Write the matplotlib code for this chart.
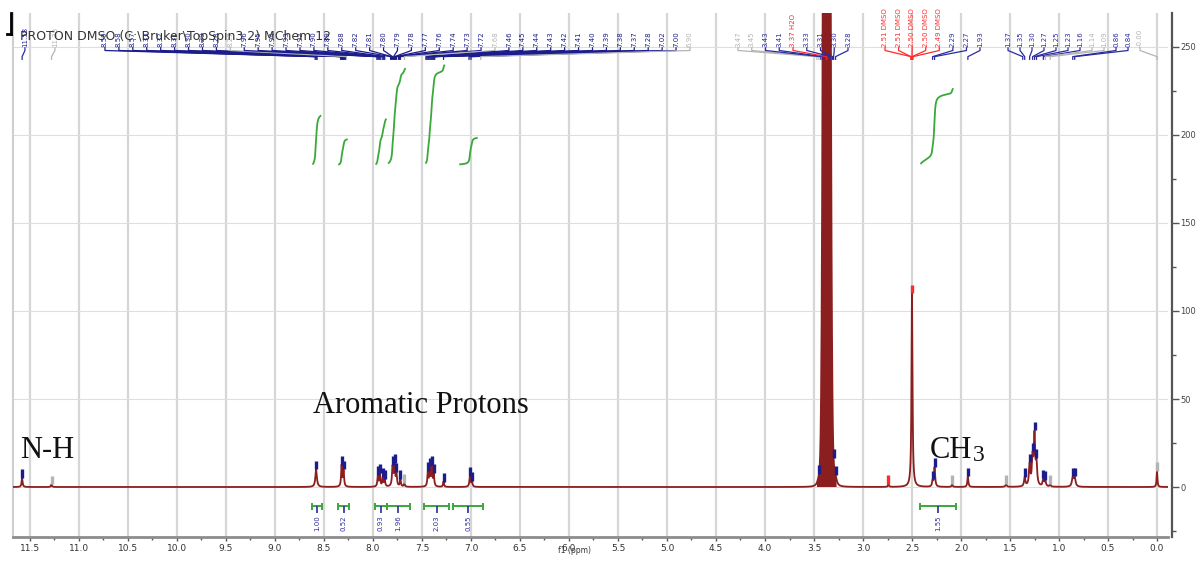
import numpy as np
import matplotlib.pyplot as plt
from matplotlib.ticker import MultipleLocator, FormatStrFormatter
from matplotlib.lines import Line2D

# picked peaks: position (ppm), height, half width, marker colour
peak_ppm = [11.58, 11.28, 8.58, 8.32, 8.30, 7.95, 7.93, 7.90, 7.88, 7.80, 7.78, 7.76, 7.72, 7.68,
            7.44, 7.42, 7.40, 7.38, 7.28, 7.01, 6.99,
            3.45, 3.30, 3.28, 2.74, 2.50, 2.29, 2.27, 2.09, 1.93, 1.54,
            1.35, 1.30, 1.27, 1.25, 1.23, 1.16, 1.14, 1.09, 0.86, 0.84, 0.00]
peak_height = [5, 1.5, 10, 12, 9, 6, 7, 5, 4, 11, 12, 7, 4, 2,
               8, 10, 11, 7, 3, 6, 3,
               5, 5, 4, 1.5, 110, 3, 11, 1.5, 6, 1.5,
               5, 12, 15, 28, 12, 4, 3, 1.5, 5, 5, 9]
peak_width = [0.006, 0.006, 0.009, 0.006, 0.006, 0.006, 0.006, 0.006, 0.006, 0.007, 0.007, 0.006, 0.006, 0.006,
              0.006, 0.006, 0.006, 0.006, 0.006, 0.007, 0.006,
              0.02, 0.02, 0.015, 0.006, 0.006, 0.006, 0.007, 0.006, 0.006, 0.008,
              0.008, 0.008, 0.008, 0.008, 0.008, 0.008, 0.008, 0.006, 0.01, 0.01, 0.005]
peak_mark = ['b', 'g', 'b', 'b', 'b', 'b', 'b', 'b', 'b', 'b', 'b', 'b', 'b', 'g',
             'b', 'b', 'b', 'b', 'b', 'b', 'b',
             'b', 'b', 'b', 'r', 'r', 'b', 'b', 'g', 'b', 'g',
             'b', 'b', 'b', 'b', 'b', 'b', 'b', 'g', 'b', 'b', 'g']

# residual water (off scale)
water_ppm = 3.37
water_height = 1600
water_sigma = 0.022

# peak labels along the top, in groups
arom_labels = ['8.59', '8.58', '8.57', '8.33', '8.32', '8.31', '8.30', '8.29', '8.28', '8.27',
               '7.96', '7.95', '7.94', '7.93', '7.92', '7.90', '7.89', '7.88',
               '7.82', '7.81', '7.80', '7.79', '7.78', '7.77', '7.76', '7.74', '7.73', '7.72', '7.68',
               '7.46', '7.45', '7.44', '7.43', '7.42', '7.41', '7.40', '7.39', '7.38', '7.37',
               '7.28', '7.02', '7.00', '6.90']
water_labels = ['3.47', '3.45', '3.43', '3.41', '3.37 H2O', '3.33', '3.31', '3.30', '3.28']
dmso_labels = ['2.51 DMSO', '2.51 DMSO', '2.50 DMSO', '2.50 DMSO', '2.49 DMSO', '2.29', '2.27', '1.93']
alk_labels = ['1.37', '1.35', '1.30', '1.27', '1.25', '1.23', '1.16', '1.14', '1.09', '0.86', '0.84', '-0.00']

# integrals
int_lo = [8.62, 8.36, 7.98, 7.86, 7.48, 7.18, 2.42]
int_hi = [8.52, 8.24, 7.86, 7.62, 7.22, 6.88, 2.05]
int_val = ['1.00', '0.52', '0.93', '1.96', '2.03', '0.55', '1.55']

BLUE = '#2b2ba0'
DARKBLUE = '#1c1c8c'
GREY = '#b4b4b4'
RED = '#ff2a2a'
GREEN = '#3aa83a'
SPEC = '#8b1e1e'
mark_col = {'b': DARKBLUE, 'g': GREY, 'r': RED}

W, H = 1202, 561
fig = plt.figure(figsize=(W / 100, H / 100), dpi=100)
ax = fig.add_axes([13 / W, 1 - 537 / H, (1168 - 13) / W, (537 - 13) / H])

x = np.arange(-0.2, 11.8, 0.0005)
spec = water_height * np.exp(-(x - water_ppm) ** 2 / (2 * water_sigma ** 2))
for p, h, g in zip(peak_ppm, peak_height, peak_width):
    spec += h / (1 + ((x - p) / g) ** 2)

ax.set_xlim(11.673, -0.112)
ax.set_ylim(-28.4, 269.3)

# grid
ax.set_axisbelow(True)
ax.xaxis.set_major_locator(MultipleLocator(0.5))
ax.xaxis.set_minor_locator(MultipleLocator(0.25))
ax.yaxis.set_major_locator(MultipleLocator(50))
ax.yaxis.set_minor_locator(MultipleLocator(25))
ax.grid(axis='x', which='major', color='#d6d6d6', lw=1.6)
ax.grid(axis='y', which='major', color='#dedede', lw=0.8)

ax.plot(x, spec, color=SPEC, lw=1.3, zorder=3)
ax.fill_between(x, 0, spec, where=np.abs(x - water_ppm) < 0.1, color=SPEC, lw=0, zorder=3)

# peak pick markers
for p, kind in zip(peak_ppm, peak_mark):
    top = np.interp(p, x, spec)
    ax.vlines(p, top, top + 5, color=mark_col[kind], lw=2.4, zorder=4)


def fan(labels, colors, left, right):
    pos = np.linspace(left, right, len(labels)) if len(labels) > 1 else [left]
    for lab, c, xl in zip(labels, colors, pos):
        xp = float(lab.split()[0])
        ax.plot([xl, xl, xp, xp], [249.5, 248, 244.5, 243], color=c, lw=0.9,
                clip_on=False, zorder=5)
        ax.text(xl, 250, lab, rotation=90, ha='center', va='bottom', fontsize=5,
                color=c, clip_on=False, zorder=5)


def px2ppm(px):
    return 11.5 - (px - 30) / 98


fan(['11.58'], [BLUE], px2ppm(25), px2ppm(25))
fan(['11.28'], [GREY], px2ppm(55), px2ppm(55))
arom_cols = [GREY if l in ('8.27', '7.68', '6.90') else DARKBLUE for l in arom_labels]
fan(arom_labels, arom_cols, px2ppm(105), px2ppm(690))
fan(water_labels, [GREY, GREY, BLUE, BLUE, RED, BLUE, BLUE, BLUE, BLUE], px2ppm(738), px2ppm(848))
fan(dmso_labels, [RED] * 5 + [BLUE] * 3, px2ppm(885), px2ppm(980))
alk_cols = [GREY if l in ('1.14', '1.09', '-0.00') else BLUE for l in alk_labels]
fan(alk_labels, alk_cols, px2ppm(1008), px2ppm(1140))

# integral curves and bars
for lo, hi, v in zip(int_lo, int_hi, int_val):
    m = (x <= lo) & (x >= hi)
    xs = x[m]
    cum = np.cumsum(spec[m][::-1])[::-1]
    frac = cum / cum[0]
    keep = (frac > 0.02) & (frac < 0.98)
    curve = 183 + float(v) * 28.4 * frac
    ax.plot(xs[keep], curve[keep], color=GREEN, lw=1.3, zorder=4)
    mid = (lo + hi) / 2
    ax.plot([lo, hi], [-11, -11], color=GREEN, lw=1.4, zorder=4)
    ax.vlines([lo, hi], -13, -9, color=GREEN, lw=1.4, zorder=4)
    ax.vlines(mid, -11, -15, color=BLUE, lw=1.2, zorder=4)
    ax.text(mid, -16, v, rotation=90, ha='center', va='top', fontsize=5, color=BLUE)

# axes styling
ax.spines['top'].set_visible(False)
ax.spines['left'].set_color('#cfcfcf')
ax.spines['left'].set_linewidth(1.5)
ax.spines['bottom'].set_color('#8c8c8c')
ax.spines['bottom'].set_linewidth(2)
ax.spines['right'].set_color('#555555')
ax.spines['right'].set_linewidth(1.6)
ax.spines['right'].set_position(('outward', 3))
ax.yaxis.tick_right()
ax.tick_params(axis='y', which='major', length=5, width=1, color='#555555',
               labelsize=6, labelcolor='#444444', pad=1)
ax.tick_params(axis='y', which='minor', length=3, width=1, color='#555555')
ax.tick_params(axis='x', which='major', length=3, width=1, color='#555555',
               labelsize=6.5, labelcolor='#333333', pad=2)
ax.tick_params(axis='x', which='minor', length=2, width=1, color='#555555')
ax.xaxis.set_major_formatter(FormatStrFormatter('%.1f'))
ax.set_xlabel('f1 (ppm)', fontsize=5.5, color='#333333')
ax.xaxis.set_label_coords((575 - 13) / (1168 - 13), -0.018)

# window text
fig.text(20 / W, 1 - 40 / H, r'PROTON DMSO (C:\Bruker\TopSpin3.2) MChem 12', fontsize=9,
         color='#333333', va='baseline')
fig.add_artist(Line2D([11 / W, 11 / W], [1 - 13 / H, 1 - 34 / H], color='black', lw=2))
fig.add_artist(Line2D([7 / W, 11 / W], [1 - 34 / H, 1 - 34 / H], color='black', lw=2))

serif = 'Liberation Serif'
fig.text(20 / W, 1 - 458 / H, 'N-H', fontsize=22, family=serif, color='#111111', va='baseline')
fig.text(313 / W, 1 - 413 / H, 'Aromatic Protons', fontsize=22, family=serif, color='#111111',
         va='baseline')
fig.text(930 / W, 1 - 458 / H, 'CH', fontsize=22, family=serif, color='#111111', va='baseline')
fig.text(973 / W, 1 - 461 / H, '3', fontsize=17, family=serif, color='#111111', va='baseline')

fig.savefig('out.png', dpi=100)
